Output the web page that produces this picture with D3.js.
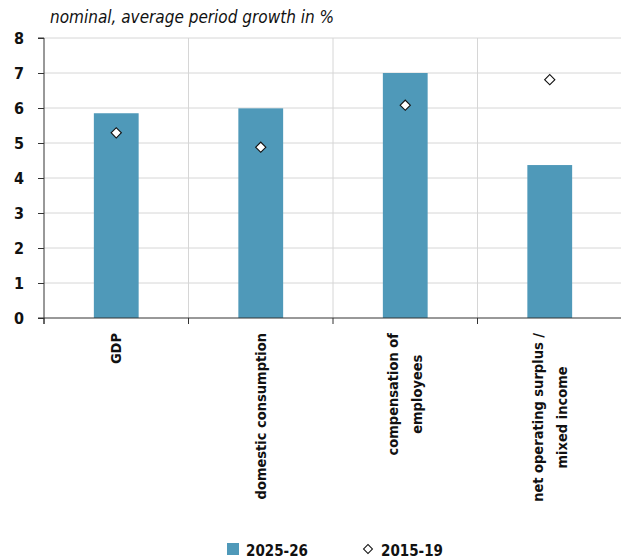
<!DOCTYPE html>
<html>
<head>
<meta charset="utf-8">
<script src="https://cdn.jsdelivr.net/npm/d3@7"></script>
<style>
  body { margin: 0; background: #fff; }
  svg text { font-family: "Liberation Sans Narrow", "DejaVu Sans Condensed", "Arial Narrow", sans-serif; fill: #111; }
</style>
</head>
<body>
<div id="chart"></div>
<script>
const width = 621;
const height = 560;

const categories = ['GDP', 'domestic consumption', 'compensation of employees', 'net operating surplus / mixed income'];
const labelLines = [['GDP'], ['domestic consumption'], ['compensation of', 'employees'], ['net operating surplus /', 'mixed income']];
const growth2025 = [5.85, 5.99, 7.0, 4.37];
const growth2015 = [5.29, 4.88, 6.08, 6.81];
const yTicks = [0, 1, 2, 3, 4, 5, 6, 7, 8];
const seriesNames = ['2025-26', '2015-19'];

const margin = { top: 38, left: 44, bottom: 242 };
const barColor = '#4f99b9';

const svg = d3.select('#chart').append('svg')
    .attr('width', width)
    .attr('height', height);

const x = d3.scaleBand()
    .domain(categories)
    .range([margin.left, 622])
    .padding(0);

const y = d3.scaleLinear()
    .domain([0, 8])
    .range([height - margin.bottom, margin.top]);

// gridlines
svg.append('g')
    .selectAll('line')
    .data(yTicks.slice(1))
    .enter().append('line')
    .attr('x1', margin.left).attr('x2', width)
    .attr('y1', d => y(d)).attr('y2', d => y(d))
    .attr('stroke', '#d6d6d6');

svg.append('g')
    .selectAll('line')
    .data(categories.slice(1))
    .enter().append('line')
    .attr('x1', d => x(d)).attr('x2', d => x(d))
    .attr('y1', y(8)).attr('y2', y(0))
    .attr('stroke', '#d6d6d6');

// bars
const barW = x.bandwidth() * 0.31;
svg.append('g')
    .selectAll('rect')
    .data(categories)
    .enter().append('rect')
    .attr('x', d => x(d) + x.bandwidth() / 2 - barW / 2)
    .attr('width', barW)
    .attr('y', (d, i) => y(growth2025[i]))
    .attr('height', (d, i) => y(0) - y(growth2025[i]))
    .attr('fill', barColor);

// diamonds
const diamond = d3.symbol().type(d3.symbolSquare).size(52);
svg.append('g')
    .selectAll('path')
    .data(categories)
    .enter().append('path')
    .attr('d', diamond)
    .attr('transform', (d, i) => `translate(${x(d) + x.bandwidth() / 2},${y(growth2015[i])}) rotate(45)`)
    .attr('fill', '#fff')
    .attr('stroke', '#111')
    .attr('stroke-width', 1.1);

// y axis
const yAxis = svg.append('g')
    .attr('transform', `translate(${margin.left},0)`)
    .call(d3.axisLeft(y).tickValues(yTicks).tickFormat(d3.format('d')).tickSize(6).tickPadding(14));
yAxis.select('.domain').attr('stroke', '#333').attr('d', `M-6,${y(8)}H0V${y(0) + 6}`);
yAxis.selectAll('.tick line').attr('stroke', '#333');
yAxis.selectAll('.tick text')
    .style('font-size', '16px')
    .style('font-weight', 'bold')
    .attr('fill', '#111');

// x axis
const xAxis = svg.append('g')
    .attr('transform', `translate(0,${y(0)})`);
xAxis.append('line')
    .attr('x1', margin.left - 6).attr('x2', width)
    .attr('stroke', '#333');
xAxis.selectAll('.xtick')
    .data(categories)
    .enter().append('line')
    .attr('x1', d => x(d)).attr('x2', d => x(d))
    .attr('y1', 0).attr('y2', 6)
    .attr('stroke', '#333');

// category labels, rotated
const labelTop = y(0) + 15;
const lineGap = 24;
categories.forEach((c, i) => {
    const lines = labelLines[i];
    const g = svg.append('g');
    const texts = lines.map(t => g.append('text')
        .attr('text-anchor', 'middle')
        .style('font-size', '14.5px')
        .style('font-weight', 'bold')
        .text(t));
    const maxLen = d3.max(texts, t => t.node().getComputedTextLength());
    const cx = x(c) + x.bandwidth() / 2;
    g.attr('transform', `translate(${cx},${labelTop}) rotate(-90)`);
    texts.forEach((t, j) => {
        t.attr('x', -maxLen / 2)
            .attr('y', 5 + (j - (lines.length - 1) / 2) * lineGap);
    });
});

// title
svg.append('text')
    .attr('x', 50)
    .attr('y', 23)
    .style('font-size', '17px')
    .style('font-style', 'italic')
    .text('nominal, average period growth in %');

// legend
const legend = svg.append('g');
legend.append('rect')
    .attr('x', 227).attr('y', 543)
    .attr('width', 12).attr('height', 12)
    .attr('fill', barColor);
legend.append('text')
    .attr('x', 246).attr('y', 556)
    .style('font-size', '15px')
    .style('font-weight', 'bold')
    .text(seriesNames[0]);
legend.append('path')
    .attr('d', d3.symbol().type(d3.symbolSquare).size(40))
    .attr('transform', 'translate(368,549) rotate(45)')
    .attr('fill', '#fff')
    .attr('stroke', '#111');
legend.append('text')
    .attr('x', 381).attr('y', 556)
    .style('font-size', '15px')
    .style('font-weight', 'bold')
    .text(seriesNames[1]);
</script>
</body>
</html>
